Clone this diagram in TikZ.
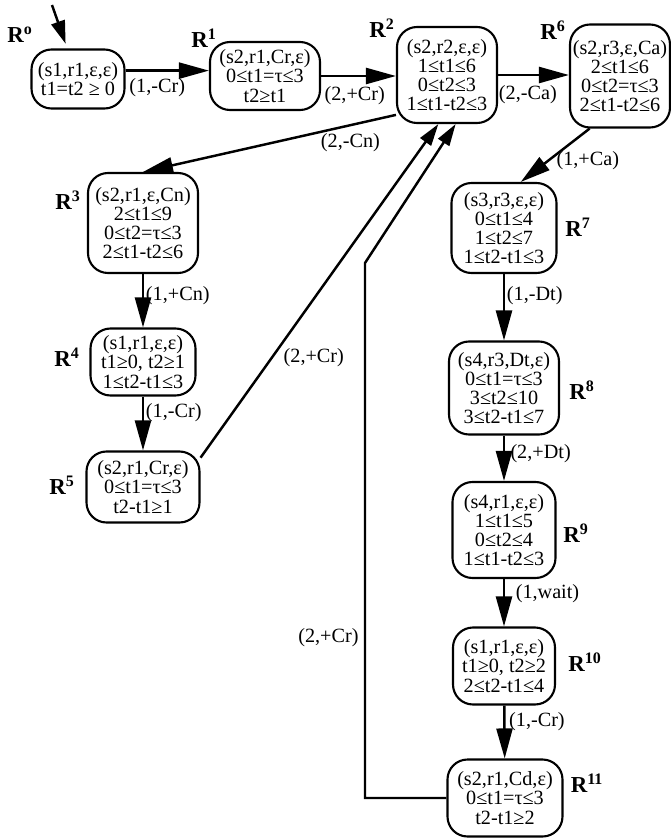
\documentclass[tikz,border=0pt]{standalone}
\usepackage{fontspec}
\setmainfont{Liberation Serif}
\usepackage{tikz}
\usetikzlibrary{arrows.meta}

\begin{document}
\begin{tikzpicture}[x=0.2mm, y=-0.2mm, >={Triangle[length=6mm, width=3.2mm]},
  reg/.style={rectangle, rounded corners=4mm, draw, line width=1.2pt, align=center,
              inner sep=1pt, font=\fontsize{11.5}{10.9}\selectfont},
  rname/.style={font=\fontsize{13}{13}\selectfont\bfseries, inner sep=0pt},
  tr/.style={->, line width=1.4pt},
  back/.style={tr, >={Triangle[length=4.4mm, width=2.6mm]}},
  lab/.style={font=\fontsize{11.5}{12}\selectfont, inner sep=1pt}]
  \useasboundingbox (0,0) rectangle (671,838);
  % top row
  \node[reg, minimum width=18.6mm, minimum height=11.8mm] (r0) at (78,79)
    {(s1,r1,ε,ε)\\ t1=t2 ≥ 0};
  \node[reg, minimum width=22mm, minimum height=13.6mm] (r1) at (265,76)
    {(s2,r1,Cr,ε)\\ 0≤t1=τ≤3\\ t2≥t1};
  \node[reg, minimum width=20mm, minimum height=19.2mm] (r2) at (447,75)
    {(s2,r2,ε,ε)\\ 1≤t1≤6\\ 0≤t2≤3\\ 1≤t1-t2≤3};
  \node[reg, minimum width=20mm, minimum height=20.6mm] (r6) at (620,76)
    {(s2,r3,ε,Ca)\\ 2≤t1≤6\\ 0≤t2=τ≤3\\ 2≤t1-t2≤6};
  % left column
  \node[reg, minimum width=22mm, minimum height=20mm] (r3) at (143,223)
    {(s2,r1,ε,Cn)\\ 2≤t1≤9\\ 0≤t2=τ≤3\\ 2≤t1-t2≤6};
  \node[reg, minimum width=21mm, minimum height=13.4mm] (r4) at (143,362)
    {(s1,r1,ε,ε)\\ t1≥0, t2≥1\\ 1≤t2-t1≤3};
  \node[reg, minimum width=22.6mm, minimum height=14.2mm] (r5) at (143,487)
    {(s2,r1,Cr,ε)\\ 0≤t1=τ≤3\\ t2-t1≥1};
  % right column
  \node[reg, minimum width=21mm, minimum height=18mm] (r7) at (504,228)
    {(s3,r3,ε,ε)\\ 0≤t1≤4\\ 1≤t2≤7\\ 1≤t2-t1≤3};
  \node[reg, minimum width=22mm, minimum height=18.6mm] (r8) at (504,388)
    {(s4,r3,Dt,ε)\\ 0≤t1=τ≤3\\ 3≤t2≤10\\ 3≤t2-t1≤7};
  \node[reg, minimum width=20.6mm, minimum height=19.2mm] (r9) at (504,530)
    {(s4,r1,ε,ε)\\ 1≤t1≤5\\ 0≤t2≤4\\ 1≤t1-t2≤3};
  \node[reg, minimum width=20.4mm, minimum height=15.4mm] (r10) at (504,666)
    {(s1,r1,ε,ε)\\ t1≥0, t2≥2\\ 2≤t2-t1≤4};
  \node[reg, minimum width=23mm, minimum height=15.4mm] (r11) at (505,798)
    {(s2,r1,Cd,ε)\\ 0≤t1=τ≤3\\ t2-t1≥2};
  % region names
  \node[rname] (n0) at (20,35) {R\textsuperscript{o}};
  \node[rname] (n1) at (204,38) {R\textsuperscript{1}};
  \node[rname] (n2) at (382,28) {R\textsuperscript{2}};
  \node[rname] (n6) at (553,30) {R\textsuperscript{6}};
  \node[rname] (n3) at (68,200) {R\textsuperscript{3}};
  \node[rname] (n4) at (67,357) {R\textsuperscript{4}};
  \node[rname] (n5) at (62,485) {R\textsuperscript{5}};
  \node[rname] (n7) at (578,227) {R\textsuperscript{7}};
  \node[rname] (n8) at (582,390) {R\textsuperscript{8}};
  \node[rname] (n9) at (576,533) {R\textsuperscript{9}};
  \node[rname] (n10) at (585,662) {R\textsuperscript{10}};
  \node[rname] (n11) at (587,783) {R\textsuperscript{11}};
  % transitions
  \coordinate (init) at (52,5);
  \coordinate (bend) at (365,263);
  \draw[tr, >={Triangle[length=4.6mm, width=2.8mm]}, shorten >=1mm] (init) -- (r0);
  \draw[tr] (r0.10) -- (r0.10 -| r1.west) node[lab, below=3pt, pos=0.38] {(1,-Cr)};
  \draw[tr] (r1.east) -- (r1.east -| r2.west) node[lab, below=4pt, pos=0.45] {(2,+Cr)};
  \draw[tr] (r2.east) -- (r2.east -| r6.west) node[lab, below=4pt, pos=0.42] {(2,-Ca)};
  \draw[tr] (r6.240) -- (r7.70) node[lab, right=3pt, pos=0.6] {(1,+Ca)};
  \draw[tr] (r2.218) -- (r3.north) node[lab, below=3pt, pos=0.18] {(2,-Cn)};
  \draw[tr] (r3) -- (r4) node[lab, right, pos=0.4] {(1,+Cn)};
  \draw[tr] (r4) -- (r5) node[lab, right, pos=0.3] {(1,-Cr)};
  \draw[back] (r5.27) -- (r2.260) node[lab, right=5pt, pos=0.3] {(2,+Cr)};
  \draw[tr] (r7) -- (r8) node[lab, right, pos=0.32] {(1,-Dt)};
  \draw[tr] (r8) -- (r9) node[lab, right=2pt, pos=0.4] {(2,+Dt)};
  \draw[tr] (r9) -- (r10) node[lab, right=5pt, pos=0.3] {(1,wait)};
  \draw[tr] (r10) -- (r11) node[lab, right=1pt, pos=0.3] {(1,-Cr)};
  \draw[back] (r11.west) -| (bend) node[lab, left=2pt, pos=0.65] {(2,+Cr)} -- (r2.280);
\end{tikzpicture}
\end{document}
